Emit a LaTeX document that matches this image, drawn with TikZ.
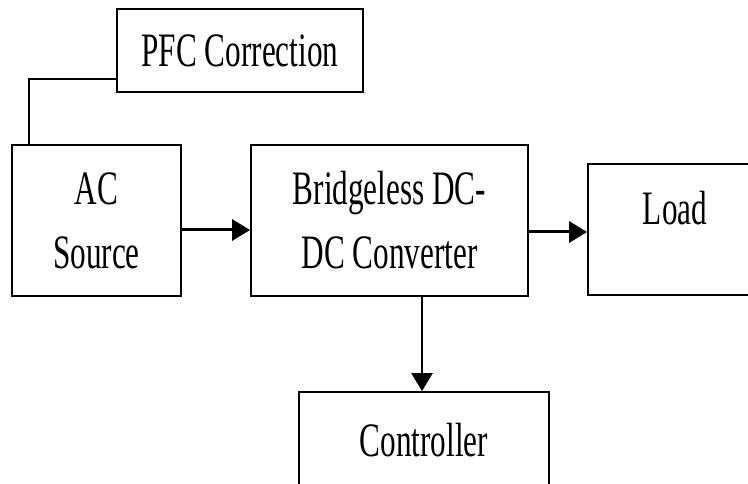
\documentclass[tikz,border=0pt]{standalone}
\usepackage{fontspec}
\setmainfont{Liberation Serif}[FakeStretch=0.65]
\usetikzlibrary{arrows.meta,calc}
\begin{document}
\begin{tikzpicture}[x=1pt,y=-1pt,
  box/.style={draw=black,line width=1.8pt,rectangle,inner sep=0pt,align=center,
    font=\fontsize{48}{64}\selectfont},
  thinline/.style={draw=black,line width=1.8pt},
  flow/.style={draw=black,line width=3pt,-{Triangle[length=18pt,width=21pt]}}]
\useasboundingbox (0,0) rectangle (748,484);
\clip (0,0) rectangle (748,484);
\fill[white] (0,0) rectangle (748,484);
\node[box,minimum width=246pt,minimum height=83pt] (pfc) at (240,50.5) {PFC Correction};
\node[box,minimum width=169pt,minimum height=151pt] (ac) at (96.5,220.5) {AC\\Source};
\node[box,minimum width=277pt,minimum height=151pt] (br) at (389.5,220.5) {Bridgeless DC-\\DC Converter};
\node[box,minimum width=174pt,minimum height=131pt,text depth=44pt] (load) at (675,229.5) {Load};
\node[box,minimum width=250pt,minimum height=96pt] (ctrl) at (424,440) {Controller};
\coordinate (pfcport) at ($(pfc.south west)+(0,-14)$);
\coordinate (acport) at ($(ac.north west)+(18,0)$);
\draw[thinline] (pfcport) -| (acport);
\coordinate (acout) at ($(ac.east)+(0,9.5)$);
\draw[flow] (acout) -- (acout -| br.west);
\coordinate (brout) at ($(br.east)+(0,11.5)$);
\draw[flow] (brout) -- (brout -| load.west);
\coordinate (brdown) at ($(br.south)+(32.5,0)$);
\draw[flow,line width=2.6pt] (brdown) -- (brdown |- ctrl.north);
\end{tikzpicture}
\end{document}
